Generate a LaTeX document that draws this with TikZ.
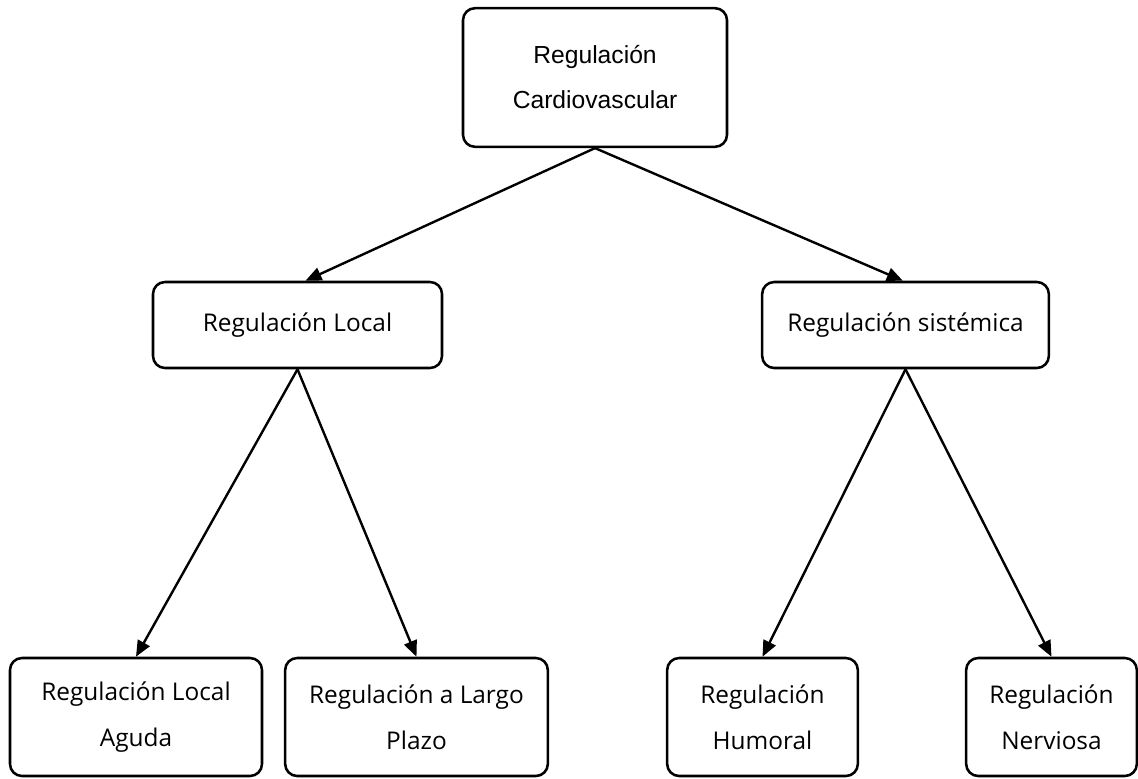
\documentclass[tikz,border=0pt]{standalone}
\usepackage{fontspec}
\setmainfont{Open Sans}
\newfontfamily\arialfont{Liberation Sans}
\usetikzlibrary{arrows.meta,positioning}
\tikzset{
	%Define standard arrow tip
	>={Triangle[length=12pt,width=10pt]},
	%Define style for boxes
	box/.style={
		rectangle,
		rounded corners=9pt,
		draw=black, line width=1.9pt,
		align=center,
		inner sep=0pt,
		font=\fontsize{18.3}{34.5}\selectfont},
	% Define arrow style
	edgeStyle/.style={
		->,
		line width=1.8pt}
}

\begin{document}
\begin{tikzpicture}[x=0.75pt,y=-0.75pt]
		\useasboundingbox (0,0) rectangle (1138,778);
		
		%nodes
		\node[box, minimum width=198pt, minimum height=104pt, font=\arialfont\fontsize{18.5}{33.75}\selectfont] (cardio) at (595,77.5) {Regulación\\Cardiovascular};
		
		\node[box, minimum width=216.75pt, minimum height=64.5pt] (local) at (297.5,325) {Regulación Local};
		\node[box, minimum width=215pt, minimum height=64.5pt] (sistemica) at (905.5,325) {Regulación sistémica};
		
		\node[box, minimum width=189pt, minimum height=88.5pt] (aguda) at (136,717) {Regulación Local\\Aguda};
		\node[box, minimum width=197pt, minimum height=88.5pt] (largo) at (416.5,717) {Regulación a Largo\\Plazo};
		\node[box, minimum width=143pt, minimum height=88.5pt] (humoral) at (762.5,717) {Regulación\\Humoral};
		\node[box, minimum width=128pt, minimum height=88.5pt] (nerviosa) at (1051.5,717) {Regulación\\Nerviosa};
		
		%edges
		\draw[edgeStyle] (cardio.south) -- ([xshift=6pt]local.north);
		\draw[edgeStyle] (cardio.south) -- ([xshift=-2pt]sistemica.north);
		\draw[edgeStyle] (local.south) -- (aguda.north);
		\draw[edgeStyle] (local.south) -- (largo.north);
		\draw[edgeStyle] (sistemica.south) -- (humoral.north);
		\draw[edgeStyle] (sistemica.south) -- (nerviosa.north);
		
\end{tikzpicture}
\end{document}
